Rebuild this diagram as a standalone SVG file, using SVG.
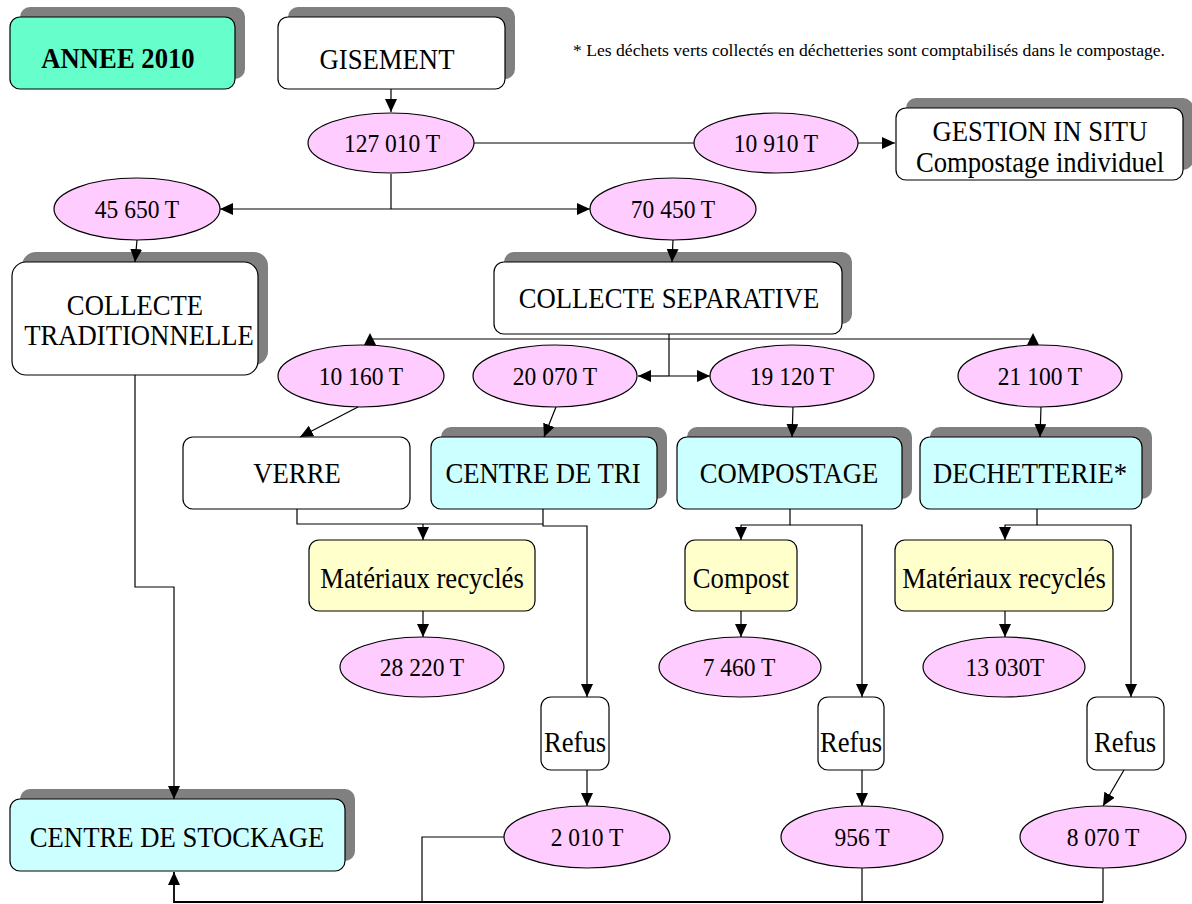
<svg xmlns="http://www.w3.org/2000/svg" width="1192" height="904" viewBox="0 0 1192 904">
<style>
.sh{fill:#808080}
.bx{stroke:#000;stroke-width:1.2}
.w{fill:#fff}.c{fill:#ccffff}.y{fill:#ffffcc}.g{fill:#66ffcc}
.el{fill:#ffccff;stroke:#000;stroke-width:1.2}
.t{font-family:"Liberation Serif","Times New Roman",serif;text-anchor:middle;fill:#000}
.lb{font-size:29px}
.nm{font-size:25px}
.fn{font-size:16px;text-anchor:start}
.cn{fill:none;stroke:#000;stroke-width:1.2}
</style>
<defs>
<marker id="a" markerUnits="userSpaceOnUse" markerWidth="14" markerHeight="12" refX="13" refY="6" orient="auto"><path d="M0,0 L13,6 L0,12 Z" fill="#000"/></marker>
</defs>
<rect width="1192" height="904" fill="#fff"/>
<g id="annee"><rect class="sh" x="20" y="7" width="225" height="72" rx="10"/><rect class="bx g" x="10" y="17" width="225" height="72" rx="10"/><text class="t lb" font-weight="bold" transform="translate(118,68) scale(0.92,1)">ANNEE 2010</text></g>
<g id="gisement"><rect class="sh" x="288" y="7" width="227" height="72" rx="10"/><rect class="bx w" x="278" y="17" width="227" height="72" rx="10"/><text class="t lb" transform="translate(387,69) scale(0.92,1)">GISEMENT</text></g>
<text id="note" class="t fn" x="573" y="56" textLength="592" lengthAdjust="spacingAndGlyphs">* Les déchets verts collectés en déchetteries sont comptabilisés dans le compostage.</text>
<g id="n127"><ellipse class="el" cx="391" cy="143" rx="83" ry="30"/><text class="t nm" transform="translate(392,152) scale(0.94,1)">127 010 T</text></g>
<g id="n10910"><ellipse class="el" cx="776" cy="143" rx="82" ry="30"/><text class="t nm" transform="translate(776,152) scale(0.94,1)">10 910 T</text></g>
<g id="gestion"><rect class="sh" x="906" y="98" width="287" height="72" rx="10"/><rect class="bx w" x="896" y="108" width="287" height="72" rx="10"/><text class="t lb" transform="translate(1040,141) scale(0.92,1)">GESTION IN SITU</text><text class="t lb" transform="translate(1040,172) scale(0.92,1)">Compostage individuel</text></g>
<g id="n45650"><ellipse class="el" cx="137" cy="209" rx="83" ry="31"/><text class="t nm" transform="translate(137,218) scale(0.94,1)">45 650 T</text></g>
<g id="n70450"><ellipse class="el" cx="673" cy="209" rx="83" ry="31"/><text class="t nm" transform="translate(673,218) scale(0.94,1)">70 450 T</text></g>
<g id="collecte-trad"><rect class="sh" x="22" y="252" width="246" height="113" rx="14"/><rect class="bx w" x="12" y="262" width="246" height="113" rx="14"/><text class="t lb" transform="translate(135,315) scale(0.92,1)">COLLECTE</text><text class="t lb" transform="translate(139,345) scale(0.92,1)">TRADITIONNELLE</text></g>
<g id="collecte-sep"><rect class="sh" x="504" y="252" width="348" height="72" rx="10"/><rect class="bx w" x="494" y="262" width="348" height="72" rx="10"/><text class="t lb" transform="translate(669,308) scale(0.92,1)">COLLECTE SEPARATIVE</text></g>
<g id="n10160"><ellipse class="el" cx="361" cy="376" rx="83" ry="31"/><text class="t nm" transform="translate(361,385) scale(0.94,1)">10 160 T</text></g>
<g id="n20070"><ellipse class="el" cx="555" cy="376" rx="82" ry="31"/><text class="t nm" transform="translate(555,385) scale(0.94,1)">20 070 T</text></g>
<g id="n19120"><ellipse class="el" cx="792" cy="376" rx="82" ry="31"/><text class="t nm" transform="translate(792,385) scale(0.94,1)">19 120 T</text></g>
<g id="n21100"><ellipse class="el" cx="1040" cy="376" rx="82" ry="31"/><text class="t nm" transform="translate(1040,385) scale(0.94,1)">21 100 T</text></g>
<g id="verre"><rect class="bx w" x="183" y="437" width="227" height="72" rx="10"/><text class="t lb" transform="translate(297,483) scale(0.92,1)">VERRE</text></g>
<g id="centre-tri"><rect class="sh" x="441" y="427" width="226" height="72" rx="10"/><rect class="bx c" x="431" y="437" width="226" height="72" rx="10"/><text class="t lb" transform="translate(543,483) scale(0.92,1)">CENTRE DE TRI</text></g>
<g id="compostage"><rect class="sh" x="687" y="427" width="225" height="72" rx="10"/><rect class="bx c" x="677" y="437" width="225" height="72" rx="10"/><text class="t lb" transform="translate(789,483) scale(0.92,1)">COMPOSTAGE</text></g>
<g id="dechetterie"><rect class="sh" x="930" y="427" width="222" height="72" rx="10"/><rect class="bx c" x="920" y="437" width="222" height="72" rx="10"/><text class="t lb" transform="translate(1030,483) scale(0.92,1)">DECHETTERIE*</text></g>
<g id="mat1"><rect class="bx y" x="309" y="540" width="226" height="71" rx="10"/><text class="t lb" transform="translate(422,588) scale(0.92,1)">Matériaux recyclés</text></g>
<g id="compost"><rect class="bx y" x="685" y="540" width="112" height="71" rx="10"/><text class="t lb" transform="translate(741,588) scale(0.92,1)">Compost</text></g>
<g id="mat2"><rect class="bx y" x="895" y="540" width="218" height="71" rx="10"/><text class="t lb" transform="translate(1004,588) scale(0.92,1)">Matériaux recyclés</text></g>
<g id="n28220"><ellipse class="el" cx="422" cy="667" rx="82" ry="30"/><text class="t nm" transform="translate(422,676) scale(0.94,1)">28 220 T</text></g>
<g id="n7460"><ellipse class="el" cx="740" cy="667" rx="81" ry="30"/><text class="t nm" transform="translate(739,676) scale(0.94,1)">7 460 T</text></g>
<g id="n13030"><ellipse class="el" cx="1004" cy="667" rx="81" ry="30"/><text class="t nm" transform="translate(1005,676) scale(0.94,1)">13 030T</text></g>
<g id="refus1"><rect class="bx w" x="541" y="697" width="68" height="73" rx="10"/><text class="t lb" transform="translate(575,752) scale(0.92,1)">Refus</text></g>
<g id="refus2"><rect class="bx w" x="818" y="697" width="66" height="73" rx="10"/><text class="t lb" transform="translate(851,752) scale(0.92,1)">Refus</text></g>
<g id="refus3"><rect class="bx w" x="1087" y="697" width="77" height="73" rx="10"/><text class="t lb" transform="translate(1125,752) scale(0.92,1)">Refus</text></g>
<g id="n2010"><ellipse class="el" cx="587" cy="837" rx="83" ry="31"/><text class="t nm" transform="translate(587,846) scale(0.94,1)">2 010 T</text></g>
<g id="n956"><ellipse class="el" cx="862" cy="837" rx="81" ry="31"/><text class="t nm" transform="translate(862,846) scale(0.94,1)">956 T</text></g>
<g id="n8070"><ellipse class="el" cx="1103" cy="837" rx="83" ry="31"/><text class="t nm" transform="translate(1103,846) scale(0.94,1)">8 070 T</text></g>
<g id="stockage"><rect class="sh" x="20" y="789" width="335" height="72" rx="10"/><rect class="bx c" x="10" y="799" width="335" height="72" rx="10"/><text class="t lb" transform="translate(177,847) scale(0.92,1)">CENTRE DE STOCKAGE</text></g>
<g id="connectors">
<path class="cn" d="M391,89 V112" marker-end="url(#a)"/>
<path class="cn" d="M474,143 H694"/>
<path class="cn" d="M858,143 H895" marker-end="url(#a)"/>
<path class="cn" d="M391,174 V209"/>
<path class="cn" d="M391,209 H220" marker-end="url(#a)"/>
<path class="cn" d="M391,209 H590" marker-end="url(#a)"/>
<path class="cn" d="M137,240 L135,262" marker-end="url(#a)"/>
<path class="cn" d="M673,240 L672,262" marker-end="url(#a)"/>
<path class="cn" d="M669,334 V376"/>
<path class="cn" d="M669,376 H638" marker-end="url(#a)"/>
<path class="cn" d="M669,376 H710" marker-end="url(#a)"/>
<path class="cn" d="M370,339 H1033"/>
<polygon points="370,333 364,345 376,345" fill="#000"/>
<polygon points="1033,333 1027,345 1039,345" fill="#000"/>
<path class="cn" d="M358,407 L300,437" marker-end="url(#a)"/>
<path class="cn" d="M556,407 L544,437" marker-end="url(#a)"/>
<path class="cn" d="M793,407 L792,437" marker-end="url(#a)"/>
<path class="cn" d="M1041,407 L1040,437" marker-end="url(#a)"/>
<path class="cn" d="M297,509 V524 H543"/>
<path class="cn" d="M543,509 V526 H587 V697" marker-end="url(#a)"/>
<path class="cn" d="M423,524 V540" marker-end="url(#a)"/>
<path class="cn" d="M423,611 V637" marker-end="url(#a)"/>
<path class="cn" d="M587,770 V806" marker-end="url(#a)"/>
<path class="cn" d="M790,509 V525 H741 V540" marker-end="url(#a)"/>
<path class="cn" d="M790,525 H862 V697" marker-end="url(#a)"/>
<path class="cn" d="M741,611 V637" marker-end="url(#a)"/>
<path class="cn" d="M862,770 V806" marker-end="url(#a)"/>
<path class="cn" d="M1037,509 V525 H1005 V540" marker-end="url(#a)"/>
<path class="cn" d="M1037,525 H1131 V697" marker-end="url(#a)"/>
<path class="cn" d="M1005,611 V637" marker-end="url(#a)"/>
<path class="cn" d="M1124,770 L1103,806" marker-end="url(#a)"/>
<path class="cn" d="M135,375 V587 H174 V799" marker-end="url(#a)"/>
<path class="cn" d="M504,837 H422 V902"/>
<path class="cn" d="M862,868 V902"/>
<path class="cn" d="M1103,868 V902"/>
<path class="cn" d="M1103,902 H174 V872" marker-end="url(#a)" style="stroke-width:1.8"/>
</g>
</svg>
